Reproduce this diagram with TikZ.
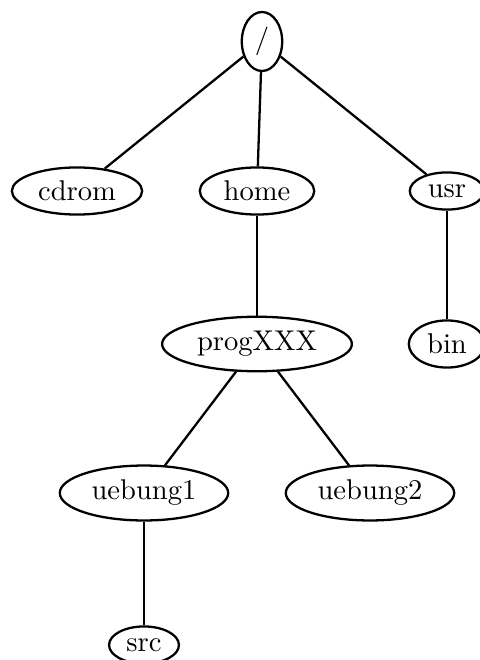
\documentclass[tikz,border=0pt]{standalone}
\usetikzlibrary{shapes.geometric}
\tikzset{
  dir/.style={draw, ellipse, line width=0.8pt, inner xsep=2.5pt, inner ysep=2.3pt, font=\normalsize},
  edge/.style={line width=0.8pt}
}
\begin{document}
\begin{tikzpicture}[x=0.35pt, y=-0.35pt]
\useasboundingbox (0,0) rectangle (479,660);
\node[dir] (root) at (262,41.5) {/};
\node[dir] (cdrom) at (77,191) {cdrom};
\node[dir] (home) at (257,191) {home};
\node[dir] (usr) at (447,191) {usr};
\node[dir] (prog) at (257,344) {progXXX};
\node[dir] (bin) at (447,344) {bin};
\node[dir] (ue1) at (144,493) {uebung1};
\node[dir] (ue2) at (370,493) {uebung2};
\node[dir] (src) at (144,645) {src};
\draw[edge] (root) -- (cdrom);
\draw[edge] (root) -- (home);
\draw[edge] (root) -- (usr);
\draw[edge] (home) -- (prog);
\draw[edge] (usr) -- (bin);
\draw[edge] (prog) -- (ue1);
\draw[edge] (prog) -- (ue2);
\draw[edge] (ue1) -- (src);
\end{tikzpicture}
\end{document}
